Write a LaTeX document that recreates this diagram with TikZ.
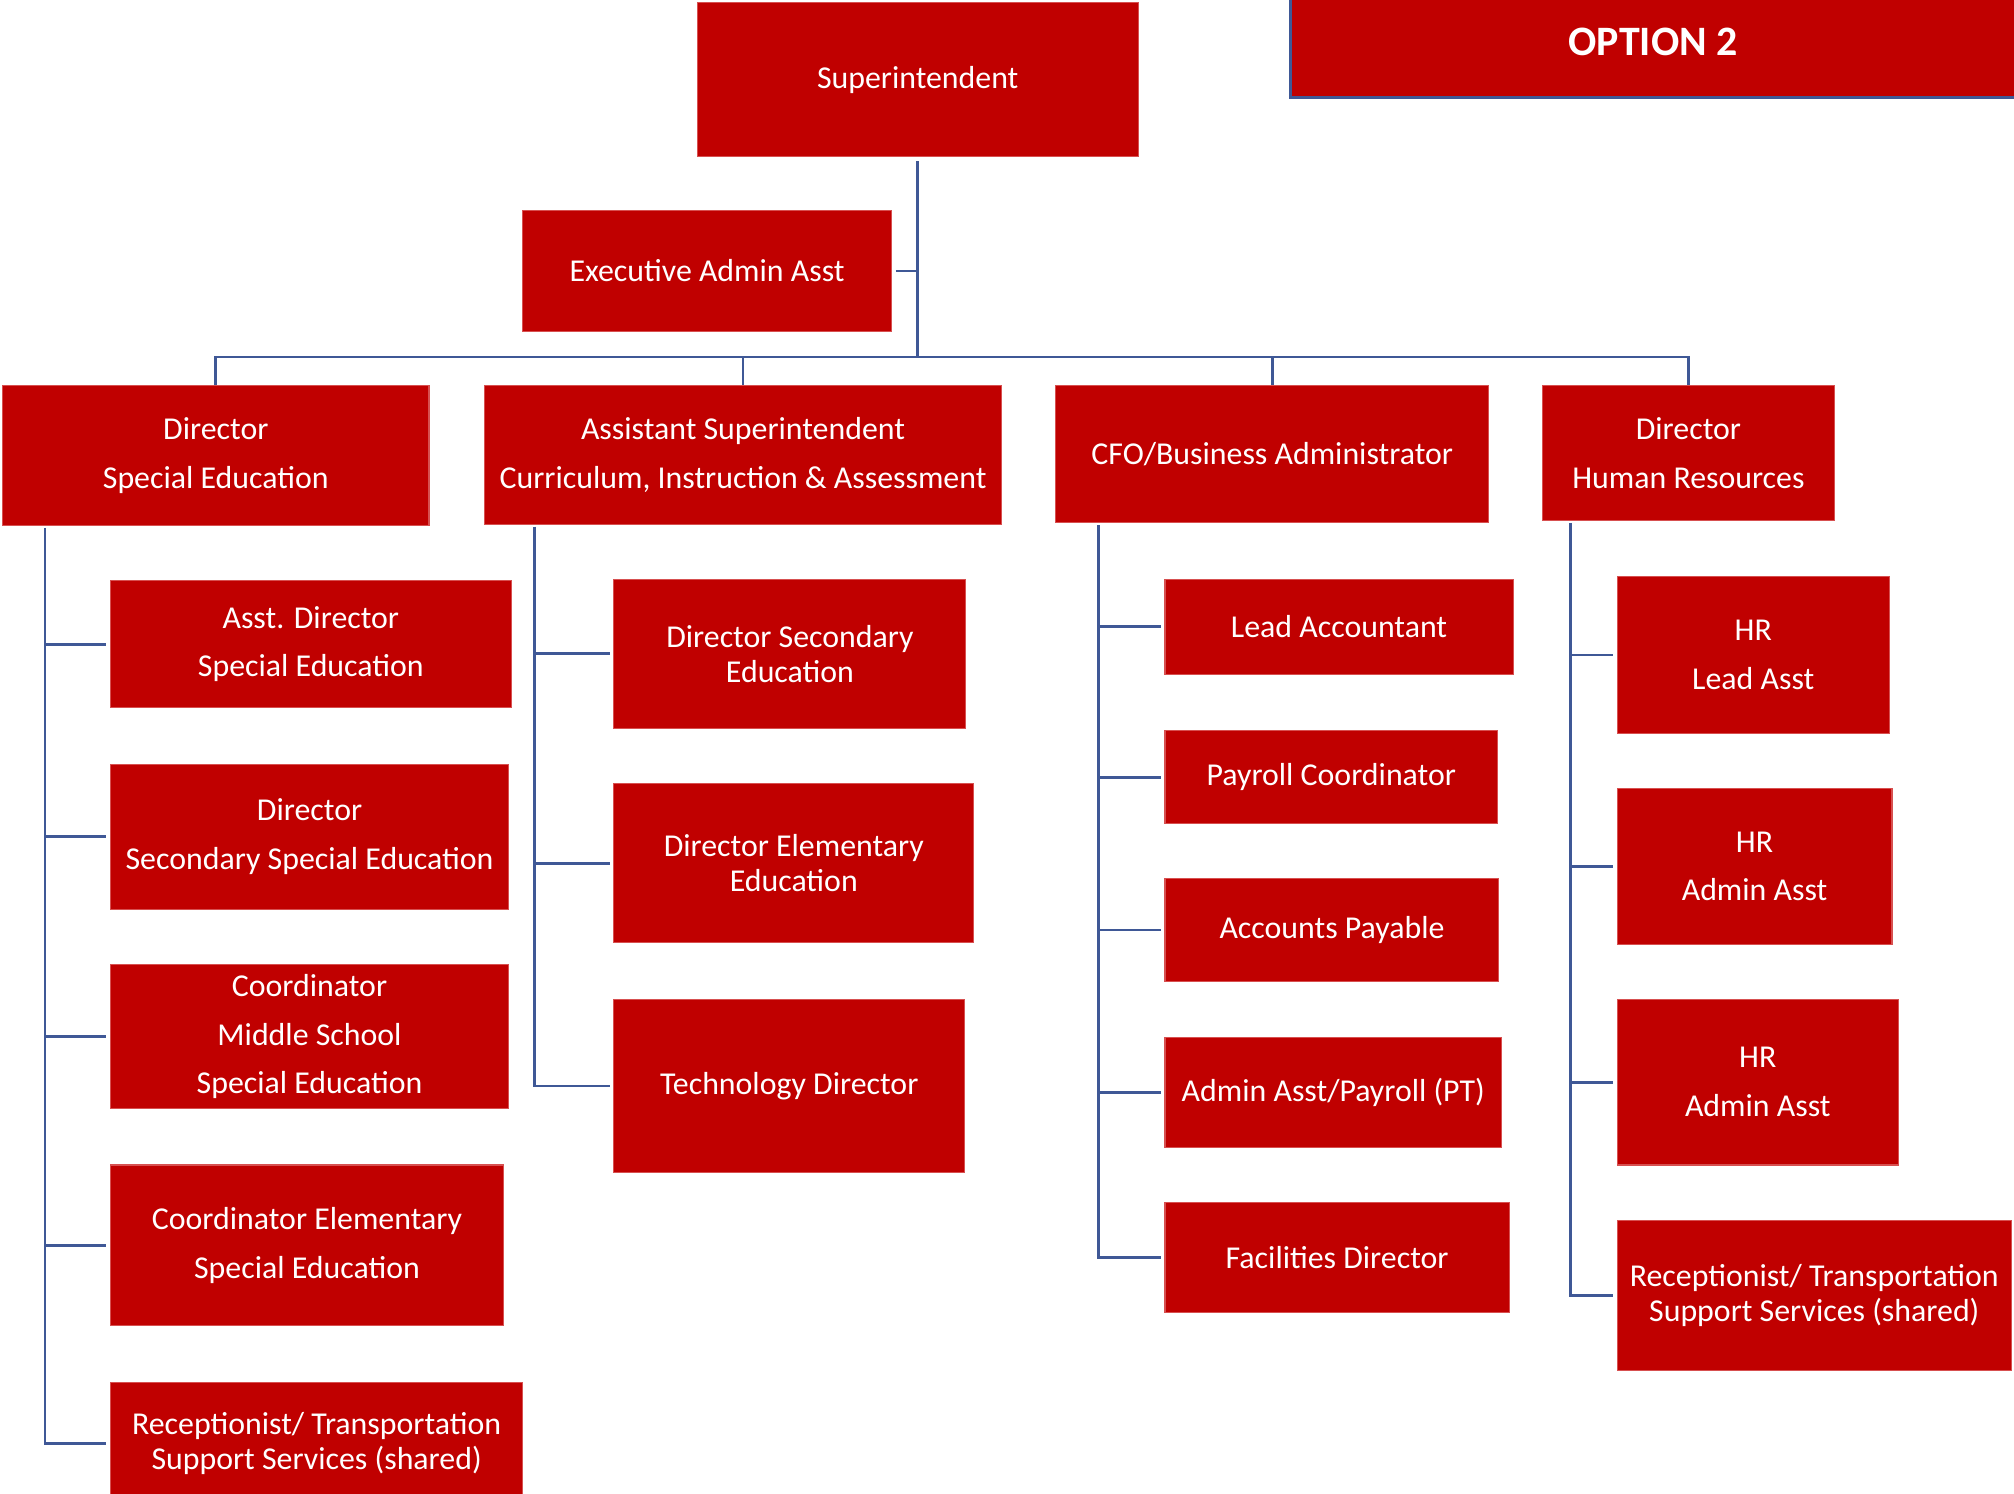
\documentclass[tikz,border=0pt]{standalone}
\usepackage{fontspec}
\setmainfont{Carlito}
\definecolor{boxred}{RGB}{192,0,0}
\definecolor{boxedge}{RGB}{215,80,80}
\definecolor{connblue}{RGB}{63,88,150}
\tikzset{
  box/.style={rectangle, fill=boxred, draw=boxedge, line width=0.4pt, text=white, align=center, inner sep=0pt,
    font=\fontsize{12.4}{19}\selectfont},
  tight/.style={font=\fontsize{12.4}{13.8}\selectfont},
  conn/.style={draw=connblue, line width=1.1pt},
}
\newcommand\orgbox[7][]{\node[box,#1, minimum width={(#5-#3)*0.5pt}, minimum height={(#6-#4)*0.5pt}] (#2) at ({(#3+#5)/2},{(#4+#6)/2+1}) {#7};}
\begin{document}
\begin{tikzpicture}[x=0.5pt,y=-0.5pt]
\useasboundingbox (0,0) rectangle (1568,1163);
\clip (0,0) rectangle (1568,1163);
\fill[white] (0,0) rectangle (1568,1163);
% top
\orgbox{sup}{543}{1}{886}{121}{Superintendent}
\node[box, draw=connblue, line width=1.2pt, minimum width={(1600-1005)*0.5pt}, minimum height={(76+20)*0.5pt}] (opt) at ({(1005+1600)/2},{(76-20)/2}) {};
\node[text=white, font=\fontsize{16.3}{19}\selectfont\bfseries] (optlabel) at (1287,33) {OPTION 2};
\orgbox{exec}{407}{163}{694}{257}{Executive Admin Asst}
% level 2
\orgbox{dsp}{2}{299}{334}{408}{Director\\Special Education}
\orgbox{asup}{377}{299}{780}{407}{Assistant Superintendent\\Curriculum, Instruction \& Assessment}
\orgbox{cfo}{822}{299}{1159}{406}{CFO/Business Administrator}
\orgbox{dhr}{1201}{299}{1428}{404}{Director\\Human Resources}
% column 1
\orgbox{a1}{86}{451}{398}{550}{Asst. Director\\Special Education}
\orgbox{a2}{86}{594}{396}{707}{Director\\Secondary Special Education}
\orgbox{a3}{86}{750}{396}{862}{Coordinator\\Middle School\\Special Education}
\orgbox{a4}{86}{906}{392}{1031}{Coordinator Elementary\\Special Education}
\orgbox[tight]{a5}{86}{1075}{407}{1171}{Receptionist/ Transportation\\Support Services (shared)}
% column 2
\orgbox[tight]{b1}{478}{450}{752}{566}{Director Secondary\\Education}
\orgbox[tight]{b2}{478}{609}{758}{733}{Director Elementary\\Education}
\orgbox{b3}{478}{777}{751}{912}{Technology Director}
% column 3
\orgbox{c1}{907}{450}{1178}{524}{Lead Accountant}
\orgbox{c2}{907}{568}{1166}{640}{Payroll Coordinator}
\orgbox{c3}{907}{683}{1167}{763}{Accounts Payable}
\orgbox{c4}{907}{807}{1169}{892}{Admin Asst/Payroll (PT)}
\orgbox{c5}{907}{935}{1175}{1021}{Facilities Director}
% column 4
\orgbox{d1}{1259}{448}{1471}{570}{HR\\Lead Asst}
\orgbox{d2}{1259}{613}{1473}{734}{HR\\Admin Asst}
\orgbox{d3}{1259}{777}{1478}{906}{HR\\Admin Asst}
\orgbox[tight]{d4}{1259}{949}{1566}{1066}{Receptionist/ Transportation\\Support Services (shared)}
% connectors
\coordinate (bus) at (715,278);
\draw[conn] ([yshift=-1.5pt]sup.south) -- (sup.south |- bus);
\draw[conn] ([xshift=1.5pt]exec.east) -- (exec.east -| sup.south);
\draw[conn] (dsp.north) -- (dsp.north |- bus) -- (dhr.north |- bus) -- (dhr.north);
\draw[conn] (asup.north) -- (asup.north |- bus);
\draw[conn] (cfo.north) -- (cfo.north |- bus);
\coordinate (t1) at (35,411);
\coordinate (t2) at (416,410);
\coordinate (t3) at (855,409);
\coordinate (t4) at (1223,407);
\draw[conn] (t1) -- (t1 |- a5.west) -- ([xshift=-1.5pt]a5.west);
\foreach \n in {a1,a2,a3,a4} \draw[conn] (t1 |- \n.west) -- ([xshift=-1.5pt]\n.west);
\draw[conn] (t2) -- (t2 |- b3.west) -- ([xshift=-1.5pt]b3.west);
\foreach \n in {b1,b2} \draw[conn] (t2 |- \n.west) -- ([xshift=-1.5pt]\n.west);
\draw[conn] (t3) -- (t3 |- c5.west) -- ([xshift=-1.5pt]c5.west);
\foreach \n in {c1,c2,c3,c4} \draw[conn] (t3 |- \n.west) -- ([xshift=-1.5pt]\n.west);
\draw[conn] (t4) -- (t4 |- d4.west) -- ([xshift=-1.5pt]d4.west);
\foreach \n in {d1,d2,d3} \draw[conn] (t4 |- \n.west) -- ([xshift=-1.5pt]\n.west);
\end{tikzpicture}
\end{document}
